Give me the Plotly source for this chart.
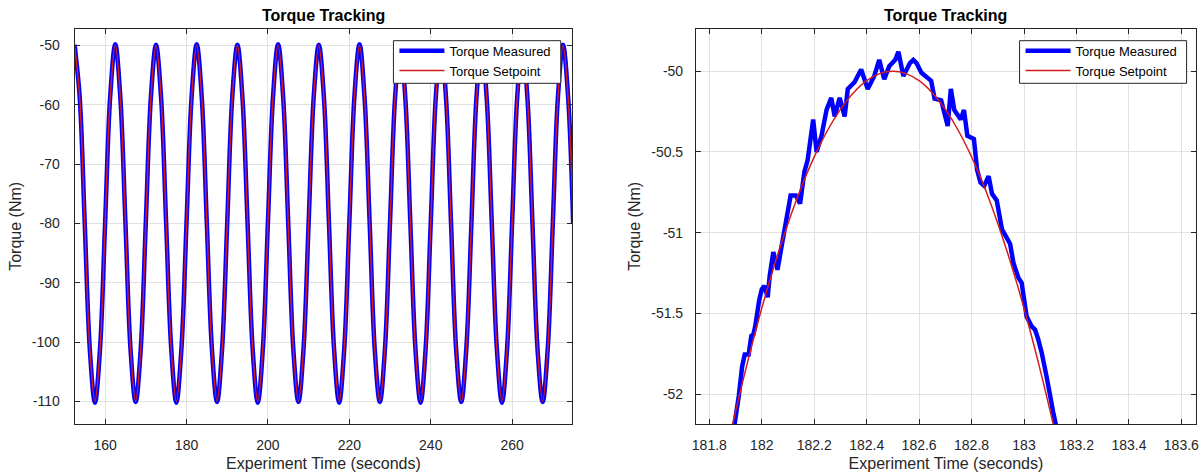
import numpy as np
import plotly.graph_objects as go

# ---- long run: 152.5 s .. 275 s, sampled every 1.25 s ----
long_time = np.arange(152.5, 275.01, 1.25)

long_setpoint = [
    -50.0, -58.8, -80.0, -101.2, -110.0, -101.2, -80.0, -58.8,
    -50.0, -58.8, -80.0, -101.2, -110.0, -101.2, -80.0, -58.8,
    -50.0, -58.8, -80.0, -101.2, -110.0, -101.2, -80.0, -58.8,
    -50.0, -58.8, -80.0, -101.2, -110.0, -101.2, -80.0, -58.8,
    -50.0, -58.8, -80.0, -101.2, -110.0, -101.2, -80.0, -58.8,
    -50.0, -58.8, -80.0, -101.2, -110.0, -101.2, -80.0, -58.8,
    -50.0, -58.8, -80.0, -101.2, -110.0, -101.2, -80.0, -58.8,
    -50.0, -58.8, -80.0, -101.2, -110.0, -101.2, -80.0, -58.8,
    -50.0, -58.8, -80.0, -101.2, -110.0, -101.2, -80.0, -58.8,
    -50.0, -58.8, -80.0, -101.2, -110.0, -101.2, -80.0, -58.8,
    -50.0, -58.8, -80.0, -101.2, -110.0, -101.2, -80.0, -58.8,
    -50.0, -58.8, -80.0, -101.2, -110.0, -101.2, -80.0, -58.8,
    -50.0, -58.8, -80.0,
]

long_measured = [
    -49.9, -58.7, -80.1, -101.3, -110.2, -101.1, -79.9, -58.6,
    -49.8, -58.9, -80.0, -101.3, -110.1, -101.2, -79.8, -58.7,
    -49.9, -58.8, -80.1, -101.2, -110.2, -101.1, -79.9, -58.7,
    -49.8, -58.8, -80.2, -101.3, -110.1, -101.0, -79.9, -58.6,
    -49.9, -58.9, -80.0, -101.2, -110.2, -101.2, -79.8, -58.7,
    -49.8, -58.8, -80.1, -101.3, -110.1, -101.1, -79.9, -58.7,
    -49.9, -58.7, -80.1, -101.2, -110.2, -101.1, -79.9, -58.6,
    -49.8, -58.9, -80.0, -101.3, -110.1, -101.2, -79.8, -58.7,
    -49.9, -58.8, -80.1, -101.2, -110.2, -101.1, -79.9, -58.7,
    -49.8, -58.8, -80.2, -101.3, -110.1, -101.0, -79.9, -58.6,
    -49.9, -58.9, -80.0, -101.2, -110.2, -101.2, -79.8, -58.7,
    -49.8, -58.8, -80.1, -101.3, -110.1, -101.1, -79.9, -58.7,
    -49.9, -58.7, -80.1,
]

# ---- close-up of one crest around 182.5 s ----
zoom_set_time = np.round(np.arange(181.85, 183.151, 0.05), 2)
zoom_setpoint = [
    -52.468, -52.107, -51.774, -51.468, -51.191, -50.943, -50.722,
    -50.531, -50.369, -50.237, -50.133, -50.059, -50.015, -50.000,
    -50.015, -50.059, -50.133, -50.237, -50.369, -50.531, -50.722,
    -50.943, -51.191, -51.468, -51.774, -52.107, -52.468,
]

zoom_meas_time = [
    181.880, 181.895, 181.9125, 181.925, 181.935, 181.950, 181.960, 181.968,
    181.975, 181.980, 181.990, 182.000, 182.010, 182.0225, 182.030, 182.044,
    182.060, 182.075, 182.094, 182.110, 182.130, 182.146, 182.163, 182.175,
    182.196, 182.209, 182.228, 182.247, 182.265, 182.278, 182.297, 182.316,
    182.328, 182.353, 182.379, 182.404, 182.429, 182.448, 182.467, 182.486,
    182.509, 182.521, 182.540, 182.565, 182.578, 182.590, 182.609, 182.634,
    182.646, 182.659, 182.684, 182.709, 182.721, 182.734, 182.759, 182.771,
    182.784, 182.809, 182.821, 182.834, 182.848, 182.865, 182.878, 182.896,
    182.903, 182.916, 182.930, 182.947, 182.960, 182.979, 182.991, 183.004,
    183.010, 183.029, 183.042, 183.054, 183.067, 183.086, 183.098, 183.111,
    183.123, 183.135,
]
zoom_measured = [
    -52.32, -52.20, -52.01, -51.83, -51.755, -51.755, -51.64, -51.63,
    -51.58, -51.52, -51.42, -51.35, -51.33, -51.40, -51.27, -51.12,
    -51.23, -51.09, -50.92, -50.77, -50.77, -50.82, -50.62, -50.55,
    -50.30, -50.50, -50.40, -50.24, -50.165, -50.28, -50.165, -50.28,
    -50.11, -50.07, -49.99, -50.11, -50.03, -49.93, -50.05, -49.97,
    -49.93, -49.88, -50.03, -49.95, -49.93, -49.95, -50.01, -50.05,
    -50.06, -50.17, -50.18, -50.34, -50.11, -50.24, -50.30, -50.24,
    -50.40, -50.42, -50.61, -50.69, -50.71, -50.65, -50.76, -50.80,
    -50.88, -50.98, -51.02, -51.07, -51.19, -51.28, -51.31, -51.44,
    -51.52, -51.58, -51.60, -51.66, -51.74, -51.89, -52.01, -52.11,
    -52.20, -52.30,
]

left_xticks = [160, 180, 200, 220, 240, 260]
left_yticks = [-110, -100, -90, -80, -70, -60, -50]
left_yticklabels = ["-110", "-100", "-90", "-80", "-70", "-60", "-50"]
right_xticks = [181.8, 182.0, 182.2, 182.4, 182.6, 182.8, 183.0, 183.2, 183.4, 183.6]
right_xticklabels = ["181.8", "182", "182.2", "182.4", "182.6", "182.8",
                     "183", "183.2", "183.4", "183.6"]
right_yticks = [-52, -51.5, -51, -50.5, -50]
right_yticklabels = ["-52", "-51.5", "-51", "-50.5", "-50"]

MEAS_COLOR = "#0000ff"
SET_COLOR = "#d41c1c"
INK = "#262626"
FONT = "Liberation Sans, Arial, sans-serif"
W, H = 1204, 476

fig = go.Figure()

fig.add_trace(go.Scatter(x=long_time, y=long_measured, mode="lines",
                         line=dict(color=MEAS_COLOR, width=4.5, shape="spline"),
                         name="Torque Measured", xaxis="x", yaxis="y",
                         legend="legend"))
fig.add_trace(go.Scatter(x=long_time, y=long_setpoint, mode="lines",
                         line=dict(color=SET_COLOR, width=1.5, shape="spline"),
                         name="Torque Setpoint", xaxis="x", yaxis="y",
                         legend="legend"))
fig.add_trace(go.Scatter(x=zoom_meas_time, y=zoom_measured, mode="lines",
                         line=dict(color=MEAS_COLOR, width=4.5),
                         name="Torque Measured", xaxis="x2", yaxis="y2",
                         legend="legend2"))
fig.add_trace(go.Scatter(x=zoom_set_time, y=zoom_setpoint, mode="lines",
                         line=dict(color=SET_COLOR, width=1.5, shape="spline"),
                         name="Torque Setpoint", xaxis="x2", yaxis="y2",
                         legend="legend2"))

axis_common = dict(
    showline=True, linecolor=INK, linewidth=1, mirror="ticks",
    ticks="inside", ticklen=5, tickcolor=INK, tickwidth=1,
    showgrid=True, gridcolor="#e1e1e1", gridwidth=1,
    zeroline=False,
    tickfont=dict(family=FONT, size=14, color=INK),
)
title_font = dict(family=FONT, size=16, color=INK)

y_dom = [1 - 424 / H, 1 - 28.7 / H]
left_dom = [71 / W, 571.7 / W]
right_dom = [696 / W, 1199 / W]

# legend frames (pixel boxes), drawn as shapes so the frame size is fixed
legend_boxes = [(391.7, 560.0), (1021.5, 1189.5)]
legend_top, legend_bottom = 40.7, 83.3

legend_common = dict(
    xanchor="left", yanchor="top", bgcolor="rgba(0,0,0,0)",
    borderwidth=0, font=dict(family=FONT, size=13, color="#000000"),
    tracegroupgap=0, itemwidth=45,
)

fig.update_layout(
    width=W, height=H,
    margin=dict(l=0, r=0, t=0, b=0),
    paper_bgcolor="white", plot_bgcolor="white",
    font=dict(family=FONT, color=INK),
    xaxis=dict(axis_common, domain=left_dom, range=[152.5, 274.8],
               tickvals=left_xticks, anchor="y", ticklabelstandoff=8,
               title=dict(text="Experiment Time (seconds)", standoff=6,
                          font=title_font)),
    yaxis=dict(axis_common, domain=y_dom, range=[-113.8, -47.2],
               tickvals=left_yticks, ticktext=left_yticklabels, anchor="x",
               ticklabelstandoff=11,
               title=dict(text="Torque (Nm)", standoff=6, font=title_font)),
    xaxis2=dict(axis_common, domain=right_dom, range=[181.749, 183.656],
                tickvals=right_xticks, ticktext=right_xticklabels, anchor="y2",
                ticklabelstandoff=8,
                title=dict(text="Experiment Time (seconds)", standoff=6,
                           font=title_font)),
    yaxis2=dict(axis_common, domain=y_dom, range=[-52.185, -49.737],
                tickvals=right_yticks, ticktext=right_yticklabels, anchor="x2",
                ticklabelstandoff=9,
                title=dict(text="Torque (Nm)", standoff=6, font=title_font)),
    legend=dict(legend_common, x=(legend_boxes[0][0] + 1) / W,
                y=1 - (legend_top - 5) / H),
    legend2=dict(legend_common, x=(legend_boxes[1][0] + 1) / W,
                 y=1 - (legend_top - 5) / H),
    showlegend=True,
)

for x0, x1 in legend_boxes:
    fig.add_shape(type="rect", xref="paper", yref="paper",
                  x0=x0 / W, x1=x1 / W, y0=1 - legend_bottom / H, y1=1 - legend_top / H,
                  fillcolor="white", line=dict(color=INK, width=1), layer="above")

for x_center in [(left_dom[0] + left_dom[1]) / 2, (right_dom[0] + right_dom[1]) / 2]:
    fig.add_annotation(text="<b>Torque Tracking</b>", x=x_center, y=1 - 15 / H,
                       xref="paper", yref="paper", xanchor="center",
                       yanchor="middle", showarrow=False,
                       font=dict(family=FONT, size=16, color="#000000"))

fig.write_html("out.html")
